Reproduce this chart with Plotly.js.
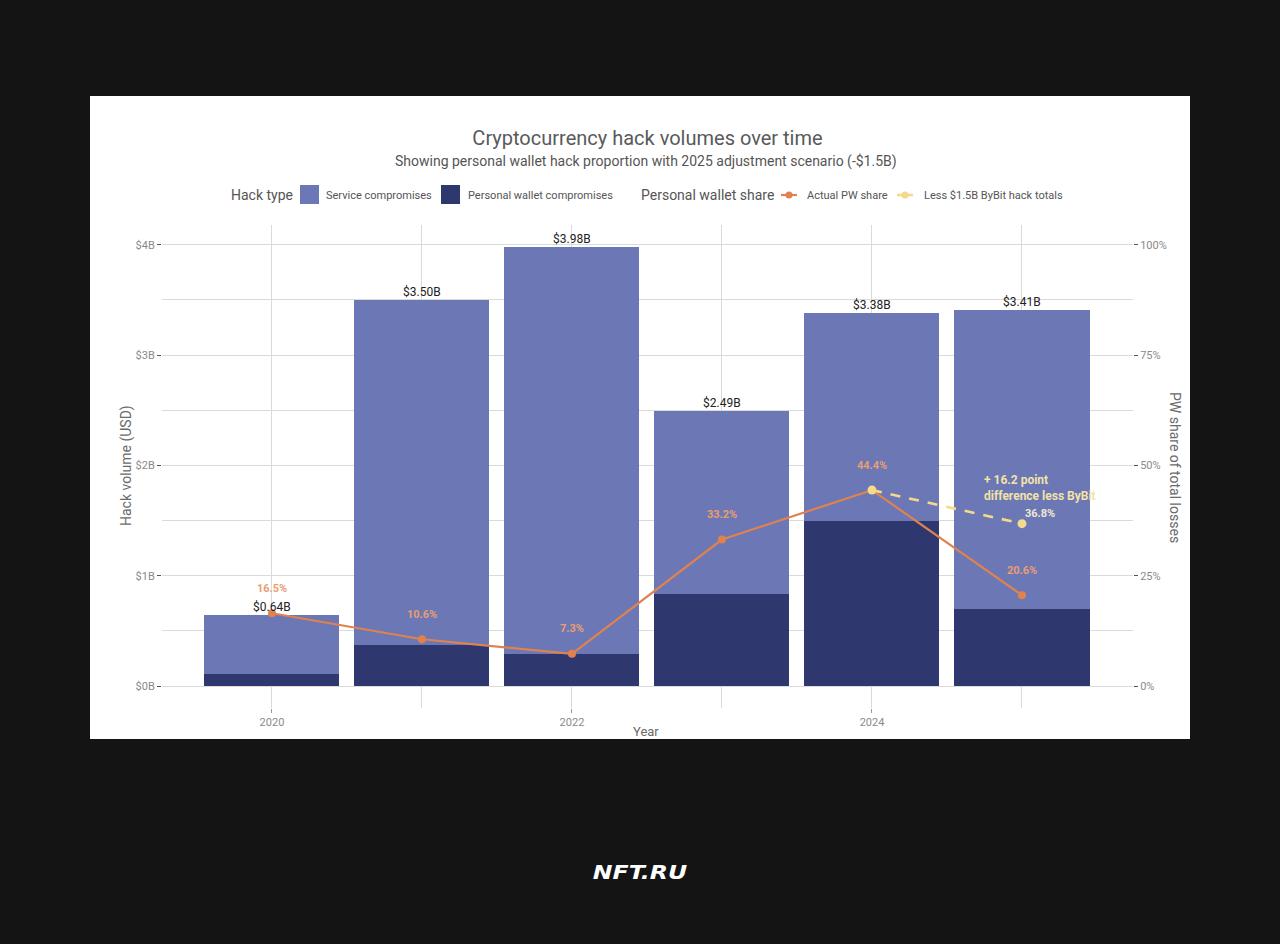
<!DOCTYPE html>
<html>
<head>
<meta charset="utf-8">
<script src="https://cdn.plot.ly/plotly-3.0.1.min.js"></script>
<style>
  html, body { margin:0; padding:0; background:#141414; width:1280px; height:944px; overflow:hidden; }
  #panel { position:absolute; left:90px; top:96px; width:1100px; height:643px; background:#ffffff; overflow:hidden; }
  #chart { position:absolute; left:0; top:0; width:1100px; height:660px; }
  #logo { position:absolute; left:0; width:1280px; top:859px; text-align:center; color:#ffffff;
          font-family:'DejaVu Sans', 'Liberation Sans', sans-serif; font-weight:bold; font-style:italic; font-size:20px;
          line-height:26px; }
  #logo span { display:inline-block; transform:scaleX(1.18); }
</style>
</head>
<body>
<div id="panel"><div id="chart"></div></div>
<div id="logo"><span>NFT.RU</span></div>
<script>
// ---- data ----
const years = [2020, 2021, 2022, 2023, 2024, 2025];
const serviceVolume = [0.53, 3.13, 3.69, 1.66, 1.88, 2.71];        // $B
const personalWalletVolume = [0.11, 0.37, 0.29, 0.83, 1.50, 0.70]; // $B
const totalLabels = ['$0.64B', '$3.50B', '$3.98B', '$2.49B', '$3.38B', '$3.41B'];
const pwShare = [16.5, 10.6, 7.3, 33.2, 44.4, 20.6];               // %
const adjYears = [2024, 2025];
const adjShare = [44.4, 36.8];                                     // %
const yTickVals = [0, 1, 2, 3, 4];
const yTickText = ['$0B', '$1B', '$2B', '$3B', '$4B'];
const y2TickVals = [0, 25, 50, 75, 100];
const y2TickText = ['0%', '25%', '50%', '75%', '100%'];
const xTickVals = [2020, 2022, 2024];
const xTickText = ['2020', '2022', '2024'];

// ---- style ----
const C_SERVICE = '#6b78b5';
const C_PW = '#2f386e';
const C_ORANGE = '#e0824f';
const C_ORANGE_LBL = '#e99d72';
const C_YELLOW = '#f4da8a';
const C_GRID = '#dadada';
const C_TXT = '#5a5a5a';
const C_TICK = '#8a8a8a';
const FONT = 'Roboto, "Noto Sans", sans-serif';

// absolute page pixel -> paper coords (plot area: x 162..1133, y 225..708)
const PX = x => (x - 162) / 971;
const PY = y => (708 - y) / 483;

const totals = years.map((_, i) => serviceVolume[i] + personalWalletVolume[i]);

const traces = [
  { type:'bar', x:years, y:personalWalletVolume, name:'Personal wallet compromises',
    marker:{color:C_PW}, width:0.9, hoverinfo:'skip', showlegend:false },
  { type:'bar', x:years, y:serviceVolume, name:'Service compromises',
    marker:{color:C_SERVICE}, width:0.9, hoverinfo:'skip', showlegend:false },
  { type:'scatter', mode:'lines+markers', x:years, y:pwShare, yaxis:'y2', name:'Actual PW share',
    line:{color:C_ORANGE, width:2.2}, marker:{color:C_ORANGE, size:8}, hoverinfo:'skip', showlegend:false },
  { type:'scatter', mode:'lines+markers', x:adjYears, y:adjShare, yaxis:'y2', name:'Less $1.5B ByBit hack totals',
    line:{color:C_YELLOW, width:2.6, dash:'10px,9px'}, marker:{color:C_YELLOW, size:9}, hoverinfo:'skip', showlegend:false }
];

const annotations = [];
// total labels above bars
years.forEach((yr, i) => {
  annotations.push({ x:yr, y:totals[i], xref:'x', yref:'y', text:totalLabels[i], showarrow:false,
    xanchor:'center', yanchor:'bottom', yshift:-1, font:{family:FONT, size:12, color:'#222222'} });
});
// PW share labels
years.forEach((yr, i) => {
  annotations.push({ x:yr, y:pwShare[i], xref:'x', yref:'y2', text:pwShare[i].toFixed(1) + '%', showarrow:false,
    xanchor:'center', yanchor:'middle', yshift:25, font:{family:FONT, size:11, color:C_ORANGE_LBL, weight:'bold'} });
});
// adjusted label
annotations.push({ x:adjYears[1], y:adjShare[1], xref:'x', yref:'y2', text:adjShare[1].toFixed(1) + '%', showarrow:false,
  xanchor:'center', yanchor:'middle', xshift:18, yshift:10, font:{family:FONT, size:11, color:'#efe8d2', weight:'bold'} });
annotations.push({ x:PX(982), y:PY(488), xref:'paper', yref:'paper', xanchor:'left', yanchor:'middle', align:'left',
  text:'+ 16.2 point<br>difference less ByBit', showarrow:false,
  font:{family:FONT, size:12, color:'#f2e2a6', weight:'bold'} });

// subtitle
annotations.push({ x:PX(646), y:PY(161), xref:'paper', yref:'paper', xanchor:'center', yanchor:'middle',
  text:'Showing personal wallet hack proportion with 2025 adjustment scenario (-$1.5B)',
  showarrow:false, font:{family:FONT, size:14, color:'#555555'} });
// axis titles
annotations.push({ x:PX(126), y:PY(466), xref:'paper', yref:'paper', xanchor:'center', yanchor:'middle',
  text:'Hack volume (USD)', textangle:-90, showarrow:false, font:{family:FONT, size:14, color:'#6a6a6a'} });
annotations.push({ x:PX(1175), y:PY(467), xref:'paper', yref:'paper', xanchor:'center', yanchor:'middle',
  text:'PW share of total losses', textangle:90, showarrow:false, font:{family:FONT, size:14, color:'#6a6a6a'} });
annotations.push({ x:PX(646), y:PY(731), xref:'paper', yref:'paper', xanchor:'center', yanchor:'middle',
  text:'Year', showarrow:false, borderpad:0, font:{family:FONT, size:13, color:'#6a6a6a'} });

// legend texts
const legTxt = [
  ['Hack type', 230, 14],
  ['Service compromises', 325, 11],
  ['Personal wallet compromises', 467, 11],
  ['Personal wallet share', 640, 14],
  ['Actual PW share', 806, 11],
  ['Less $1.5B ByBit hack totals', 923, 11]
];
legTxt.forEach(([t, x, s]) => {
  annotations.push({ x:PX(x), y:PY(195), xref:'paper', yref:'paper', xanchor:'left', yanchor:'middle',
    text:t, showarrow:false, borderpad:0, font:{family:FONT, size:s, color:'#555555'} });
});

const shapes = [
  { type:'rect', xref:'paper', yref:'paper', x0:PX(300), x1:PX(319), y0:PY(204), y1:PY(185), fillcolor:C_SERVICE, line:{width:0} },
  { type:'rect', xref:'paper', yref:'paper', x0:PX(441), x1:PX(460), y0:PY(204), y1:PY(185), fillcolor:C_PW, line:{width:0} },
  { type:'line', xref:'paper', yref:'paper', x0:PX(781), x1:PX(797), y0:PY(195), y1:PY(195), line:{color:C_ORANGE, width:2.2} },
  { type:'circle', xref:'paper', yref:'paper', x0:PX(785.5), x1:PX(792.5), y0:PY(198.5), y1:PY(191.5), fillcolor:C_ORANGE, line:{width:0} },
  { type:'line', xref:'paper', yref:'paper', x0:PX(897), x1:PX(913), y0:PY(195), y1:PY(195), line:{color:C_YELLOW, width:2.6} },
  { type:'circle', xref:'paper', yref:'paper', x0:PX(901.5), x1:PX(908.5), y0:PY(198.5), y1:PY(191.5), fillcolor:C_YELLOW, line:{width:0} }
];

const layout = {
  width:1100, height:660,
  margin:{l:72, r:57, t:129, b:48, pad:0},
  paper_bgcolor:'#ffffff', plot_bgcolor:'#ffffff',
  barmode:'stack', bargap:0.1,
  showlegend:false,
  font:{family:FONT, color:C_TXT},
  title:{ text:'Cryptocurrency hack volumes over time', x:0.5, xref:'paper', xanchor:'center',
          y:1 - (138 - 96) / 660, yref:'container', yanchor:'middle',
          font:{family:FONT, size:20, color:'#5a5a5a'} },
  xaxis:{ range:[2019.267, 2025.74], tickvals:xTickVals, ticktext:xTickText,
          showgrid:true, gridcolor:C_GRID, gridwidth:1, zeroline:false, showline:false,
          ticks:'outside', ticklen:4, tickcolor:'#9a9a9a', tickfont:{family:FONT, size:11, color:C_TICK},
          minor:{tickvals:[2021, 2023, 2025], showgrid:true, gridcolor:C_GRID, gridwidth:1, ticks:''},
          fixedrange:true },
  yaxis:{ range:[-0.199, 4.179], tickvals:yTickVals, ticktext:yTickText,
          showgrid:true, gridcolor:C_GRID, gridwidth:1, zeroline:false, showline:false,
          ticks:'outside', ticklen:4, tickcolor:'#555555', tickfont:{family:FONT, size:11, color:C_TICK},
          minor:{tickvals:[0.5, 1.5, 2.5, 3.5], showgrid:true, gridcolor:C_GRID, gridwidth:1, ticks:''},
          fixedrange:true },
  yaxis2:{ range:[-4.975, 104.475], overlaying:'y', side:'right', tickvals:y2TickVals, ticktext:y2TickText,
           showgrid:false, zeroline:false, showline:false,
           ticks:'outside', ticklen:4, tickcolor:'#555555', tickfont:{family:FONT, size:11, color:C_TICK},
           fixedrange:true },
  annotations:annotations,
  shapes:shapes
};

Plotly.newPlot('chart', traces, layout, {displayModeBar:false, staticPlot:true});
</script>
</body>
</html>
